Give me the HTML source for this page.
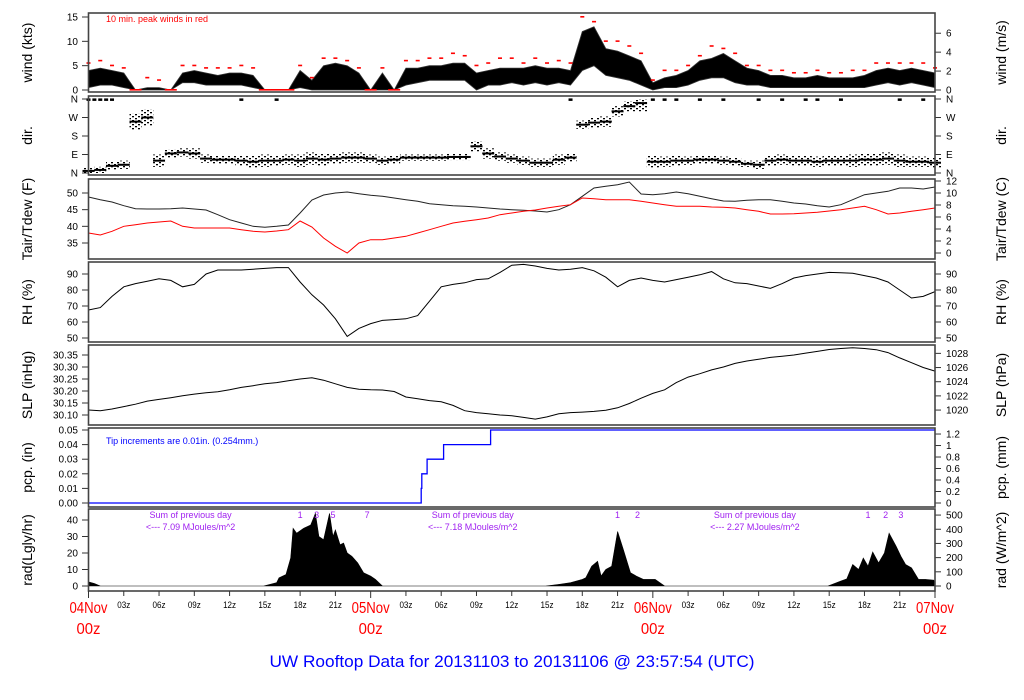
<!DOCTYPE html>
<html><head><meta charset="utf-8">
<style>
html,body{margin:0;padding:0;background:#fff;}
svg{display:block;font-family:"Liberation Sans",sans-serif;}
</style></head>
<body>
<svg id="chart" width="1024" height="700" viewBox="0 0 1024 700" xmlns="http://www.w3.org/2000/svg">
<defs>
<pattern id="dots" width="6" height="4" patternUnits="userSpaceOnUse">
<rect x="0" y="0" width="2" height="1.3" fill="#000"/>
<rect x="3" y="2" width="2" height="1.3" fill="#000"/>
</pattern>
</defs>
</svg>
<script>
// ---------- data (hourly, h = 0..72) ----------
const windHi = [4,4.5,4,3.5,0,0.5,0.5,0,3.5,4,3.5,3,3.5,3.5,3,0,0,0,4,2,5,5.5,5,3.5,0,3.5,0,4.5,4.5,5,5,5.5,5.5,3.5,4,4.5,4.5,4.5,5,4.5,4.5,4,12,13,8.5,8,7,6,1.5,2.5,3,4,6,6.5,7.5,6,4.5,4,3,3,2.5,2.5,3,2.5,2.5,2.5,3,4,4.5,4,4.5,4,3.5];
const windLo = [0.5,1,1,0.5,0,0,0,0,1.5,1.5,1,1,1,1,0.5,0,0,0,0.5,0,0,0,0,0,0,0,0,1,1.5,2,2,2,2,0,1,1,1.5,1,1.5,1,1.5,1,4,5,3,2.5,2,1,0,0.5,0.5,1,2,2.5,2.5,1.5,1,1,0.5,0.5,0.5,0.5,0.5,0.5,0.5,0.5,0.5,1,1.5,1,1.5,1,0.5];
const windGust = [5.5,6,5,4.5,0,2.5,2,0,5,5,4.5,4.5,4.5,5,4.5,0,0,0,5,2.5,6.5,6.5,6,4.5,0,4.5,0,6,6,6.5,6.5,7.5,7,5,5.5,6.5,6.5,5.5,6.5,5.5,6,5.5,15,14,10,10,9,7.5,2,4,4,5,7,9,8.5,7.5,5,5,4,4,3.5,3.5,4,3.5,3.5,4,4,5.5,5.5,5.5,5.5,5.5,4.5];
const dirVals = [10,15,35,40,250,270,60,95,100,95,70,65,65,60,55,60,60,65,60,70,65,70,75,75,70,60,65,75,75,75,75,78,78,130,95,80,70,60,50,50,65,75,235,245,250,300,325,340,55,55,60,60,65,65,60,55,45,40,60,65,60,60,55,60,60,60,65,65,70,60,55,55,50];
const dirSpread = [15,15,20,20,40,40,30,20,20,25,20,20,20,25,30,30,25,25,30,30,30,25,25,25,20,20,20,15,15,15,15,15,15,25,25,20,20,20,20,20,25,20,20,25,25,25,25,40,30,25,25,20,20,20,20,20,15,20,25,25,25,25,25,25,25,30,30,30,30,30,25,25,25];
const northHours = [0,0.5,1,1.5,2,13,16,41,48,49,50,52,54,57,59,61,62,64,69,71];
const tair = [48.8,48,47.3,46.2,45.3,45.2,45.2,45.3,45.5,45.2,44.9,43.5,42,41,40,39.7,40,40.4,44,47.9,49.4,50,50.3,49.8,49.3,49,48.5,48,47.5,46.8,46.5,46.2,46,45.8,45.5,45.2,45,44.8,44.6,44.3,45,46.5,49,51.5,52,52.5,53.3,49.7,49.5,49.8,50.3,49.8,49,48.3,47.6,47.5,47.8,48,48,47.5,47,46.7,46.2,45.8,46.5,48,49.5,50,50.5,51.5,51.5,51.2,51.8];
const tdew = [38,37.4,38.5,40,40.5,41,41.3,41.6,40,39.5,39.5,39.5,39.5,39,38.5,38.3,38.6,39,41.6,39.8,36.5,34,32,35,36,36,36.5,37,38,39,40,41,41.5,42,42.5,43.5,44,44.5,44.9,45.5,46,46.5,48.5,48.3,48,48,48,47.5,47,46.5,46,46,46,45.8,45.7,45.5,45,44.5,43.7,43.7,43.8,44,44.2,44.6,45,45.5,46,45,43.7,44,44.5,45,45.5];
const rh = [67.5,69,76,82,84,85.5,87,86,82,83.5,90,92.5,92.5,92.5,93,93.5,94,94,85,77,70.6,62,51,56,59,61,61.5,62,64,73,82,83.5,84.5,86.5,87,91,95.5,96,95,93.5,92.5,93,94,92,88,82,86,87.5,86,85,86.5,88,89.5,91.5,87,84.5,84,82.5,81,84,87.5,89,90,91,90.8,90.5,89,87.5,85,80,75,76,79];
const slp = [30.121,30.118,30.125,30.135,30.145,30.158,30.165,30.172,30.18,30.187,30.193,30.197,30.205,30.215,30.222,30.23,30.235,30.243,30.25,30.255,30.245,30.23,30.215,30.207,30.205,30.204,30.198,30.175,30.168,30.16,30.155,30.14,30.118,30.11,30.105,30.1,30.097,30.09,30.083,30.092,30.105,30.11,30.112,30.115,30.12,30.13,30.148,30.17,30.19,30.205,30.235,30.258,30.272,30.288,30.3,30.315,30.325,30.332,30.34,30.345,30.35,30.358,30.365,30.373,30.377,30.38,30.377,30.372,30.36,30.338,30.318,30.298,30.283];
const tipHours = [28.3,28.35,28.8,30.2,34.2];
const tipSize = 0.01;
const radHours = [0,0.5,1,14.9,16,16.2,16.8,17.2,17.4,17.7,18.3,18.9,19.3,19.6,20,20.5,20.8,21,21.4,21.7,22,22.4,22.9,23.4,24,24.4,25,38.9,40,41,42,42.3,42.8,43.3,43.6,44,44.5,45,45.5,46.1,46.6,47.2,48.2,49,62.9,64,64.5,65,65.5,65.9,66.3,66.7,67.2,67.7,68.1,68.7,69.1,69.5,70,70.6,71.2,71.9,72];
const radVals = [2.5,1.5,0,0,2,5,7,17,35,32,35,37,44,30,28,44,30,34,25,26,20,18,14,8,6,4,0,0,1,2,4,5,12,15,6,10,12,33,22,8,6,4,4,0,0,3,4.3,13,10,17,12,20.6,14,20,32,24,18,13,11,4,4,3.5,2];
const dayLabels = ["04Nov","05Nov","06Nov","07Nov"];
const hourLabels = ["03z","06z","09z","12z","15z","18z","21z"];
const radSums = ["7.09","7.18","2.27"];
const radMarks = [[["1",18],["3",19.4],["5",20.8],["7",23.7]],[["1",45],["2",46.7]],[["1",66.3],["2",67.8],["3",69.1]]];

// ---------- geometry ----------
const svg = document.getElementById('chart');
const NS = 'http://www.w3.org/2000/svg';
const X0 = 88.5, X1 = 935;
function xH(h){ return X0 + (X1 - X0) * h / 72; }
function hourOf(i, n){ return i * 72 / (n - 1); }
function el(tag, attrs, parent){
  const e = document.createElementNS(NS, tag);
  for (const k in attrs) e.setAttribute(k, attrs[k]);
  (parent || svg).appendChild(e);
  return e;
}
function txt(s, attrs, parent){ const t = el('text', attrs, parent); t.textContent = s; return t; }

const panels = [
  {name:'wind', top:13, bot:92, y:v=>90-v*4.867, lt:[0,5,10,15], ll:['0','5','10','15'],
   rt:[0,2,4,6].map(v=>v/0.5144), rl:['0','2','4','6'], ltitle:'wind (kts)', rtitle:'wind (m/s)'},
  {name:'dir', top:96, bot:175, y:v=>173-v*(74/360), lt:[0,90,180,270,360], ll:['N','E','S','W','N'],
   rt:[0,90,180,270,360], rl:['N','E','S','W','N'], ltitle:'dir.', rtitle:'dir.'},
  {name:'temp', top:179, bot:259, y:v=>193+(50-v)*3.333, lt:[35,40,45,50], ll:['35','40','45','50'],
   rt:[0,2,4,6,8,10,12].map(c=>c*1.8+32), rl:['0','2','4','6','8','10','12'], ltitle:'Tair/Tdew (F)', rtitle:'Tair/Tdew (C)'},
  {name:'rh', top:262, bot:342, y:v=>274+(90-v)*1.6, lt:[50,60,70,80,90], ll:['50','60','70','80','90'],
   rt:[50,60,70,80,90], rl:['50','60','70','80','90'], ltitle:'RH (%)', rtitle:'RH (%)'},
  {name:'slp', top:345, bot:425, y:v=>355+(30.35-v)*240, lt:[30.10,30.15,30.20,30.25,30.30,30.35], ll:['30.10','30.15','30.20','30.25','30.30','30.35'],
   rt:[1020,1022,1024,1026,1028].map(p=>p/33.8639), rl:['1020','1022','1024','1026','1028'], ltitle:'SLP (inHg)', rtitle:'SLP (hPa)'},
  {name:'pcp', top:428, bot:507, y:v=>503-v*1460, lt:[0,0.01,0.02,0.03,0.04,0.05], ll:['0.00','0.01','0.02','0.03','0.04','0.05'],
   rt:[0,0.2,0.4,0.6,0.8,1,1.2].map(m=>m/25.4), rl:['0','0.2','0.4','0.6','0.8','1','1.2'], ltitle:'pcp. (in)', rtitle:'pcp. (mm)'},
  {name:'rad', top:509, bot:591, y:v=>586-v*1.65, lt:[0,10,20,30,40], ll:['0','10','20','30','40'],
   rt:[0,100,200,300,400,500].map(w=>w/11.63), rl:['0','100','200','300','400','500'], ltitle:'rad(Lgly/hr)', rtitle:'rad (W/m^2)'}
];
const P = {}; panels.forEach(p=>P[p.name]=p);

panels.forEach(p=>{
  const g = el('g', {});
  
  
  p.g = g;
  p.lt.forEach((v,i)=>{
    const y = p.y(v);
    const tk = el('line', {x1:82, x2:X0, y1:y, y2:y, stroke:'#333', 'stroke-width':1}, g);
    
    
    const lb = txt(p.ll[i], {x:78, y:y+3.5, 'font-size':10, 'text-anchor':'end', fill:'#000'}, g);
    
    
  });
  p.rt.forEach((v,i)=>{
    const y = p.y(v);
    const tk = el('line', {x1:X1, x2:941, y1:y, y2:y, stroke:'#333', 'stroke-width':1}, g);
    
    
    const lb = txt(p.rl[i], {x:946, y:y+3.5, 'font-size':10, fill:'#000'}, g);
    
    
  });
  const cy = (p.top + p.bot) / 2;
  const lt = txt(p.ltitle, {x:0, y:0, 'font-size':14, 'text-anchor':'middle', transform:`translate(32,${cy}) rotate(-90)`}, g);
  
  
  const rt = txt(p.rtitle, {x:0, y:0, 'font-size':14, 'text-anchor':'middle', transform:`translate(1006,${cy}) rotate(-90)`}, g);
  
  
});

function line(arr, p, color, name){
  const pts = arr.map((v,i)=>xH(hourOf(i,arr.length)).toFixed(1)+','+p.y(v).toFixed(1)).join(' ');
  const pl = el('polyline', {points:pts, fill:'none', stroke:color, 'stroke-width':1}, p.g);
  
  
}

// wind band
{
  const p = P.wind, n = windHi.length;
  let pts = windHi.map((v,i)=>xH(hourOf(i,n)).toFixed(1)+','+p.y(v).toFixed(1));
  for (let i=n-1;i>=0;i--) pts.push(xH(hourOf(i,n)).toFixed(1)+','+p.y(windLo[i]).toFixed(1));
  const poly = el('polygon', {points:pts.join(' '), fill:'#000', stroke:'#333', 'stroke-width':0.8}, p.g);
  
  
  windGust.forEach((v,i)=>{
    const x = xH(hourOf(i,n));
    const w = v === 0 ? 12 : 4;
    const d = el('rect', {x:(v===0? x-6 : x-2), y:p.y(v)-1, width:w, height:1.6, fill:'#f00'}, p.g);
    
    
  });
  const note = txt('10 min. peak winds in red', {x:106, y:22, 'font-size':9, fill:'#f00'}, p.g);
  
  
}
// direction
{
  const p = P.dir, n = dirVals.length;
  dirVals.forEach((v,i)=>{
    const x = xH(hourOf(i,n));
    const y1 = p.y(Math.min(360, v + dirSpread[i])), y2 = p.y(Math.max(0, v - dirSpread[i]));
    const r = el('rect', {x:x-6, y:y1, width:12, height:y2-y1, fill:'url(#dots)'}, p.g);
    
    
    const c = el('rect', {x:x-6, y:p.y(v)-1, width:12, height:2, fill:'#000'}, p.g);
    
    
  });
  northHours.forEach(h=>{
    const r = el('rect', {x:xH(h)-2, y:p.y(358)-1, width:4, height:2.5, fill:'#000'}, p.g);
    
    
  });
}
line(tair, P.temp, '#222', 'tair-line');
line(tdew, P.temp, '#f00', 'tdew-line');
line(rh, P.rh, '#000', 'rh-line');
line(slp, P.slp, '#000', 'slp-line');
// precip
{
  const p = P.pcp;
  let total = 0, pts = [xH(0)+','+p.y(0)];
  tipHours.forEach(h=>{
    pts.push(xH(h).toFixed(1)+','+p.y(total).toFixed(1));
    total += tipSize;
    pts.push(xH(h).toFixed(1)+','+p.y(total).toFixed(1));
  });
  pts.push(xH(72)+','+p.y(total).toFixed(1));
  const pl = el('polyline', {points:pts.join(' '), fill:'none', stroke:'#00f', 'stroke-width':1.3}, p.g);
  
  
  const note = txt('Tip increments are 0.01in. (0.254mm.)', {x:106, y:444, 'font-size':9, fill:'#00f'}, p.g);
  
  
}
// radiation
{
  const p = P.rad;
  let pts = [xH(radHours[0]).toFixed(1)+','+p.y(0)];
  radHours.forEach((h,i)=>pts.push(xH(h).toFixed(1)+','+p.y(radVals[i]).toFixed(1)));
  pts.push(xH(radHours[radHours.length-1]).toFixed(1)+','+p.y(0));
  const poly = el('polygon', {points:pts.join(' '), fill:'#000', stroke:'#000', 'stroke-width':0.6}, p.g);
  
  
  radSums.forEach((s,d)=>{
    const cx = xH(12 + d*24) - 39;
    const a = txt('Sum of previous day', {x:cx, y:518, 'font-size':9, 'text-anchor':'middle', fill:'#a020f0'}, p.g);
    
    
    const b = txt('<--- ' + s + ' MJoules/m^2', {x:cx, y:530, 'font-size':9, 'text-anchor':'middle', fill:'#a020f0'}, p.g);
    
    
  });
  radMarks.forEach(day=>day.forEach(m=>{
    const t = txt(m[0], {x:xH(m[1]), y:518, 'font-size':9, 'text-anchor':'middle', fill:'#a020f0'}, p.g);
    
    
  }));
}
panels.forEach(p=>{
  const f = el('rect', {x:X0, y:p.top, width:X1-X0, height:p.bot-p.top, fill:'none', stroke:'#444', 'stroke-width':1.6}, p.g);
  
  
});
for (let h=0; h<=72; h+=3){
  const x = xH(h);
  const big = h % 24 === 0;
  const tk = el('line', {x1:x, x2:x, y1:591, y2:big?598:596, stroke:'#333', 'stroke-width':1});
  
  
  if (big){
    const d = h/24;
    const t1 = txt(dayLabels[d], {x:x, y:613, 'font-size':16, 'text-anchor':'middle', fill:'#f00', textLength:38, lengthAdjust:'spacingAndGlyphs'});
    
    
    const t2 = txt('00z', {x:x, y:634, 'font-size':16, 'text-anchor':'middle', fill:'#f00', textLength:24, lengthAdjust:'spacingAndGlyphs'});
    
    
  } else {
    const t = txt(hourLabels[(h%24)/3-1], {x:x, y:608, 'font-size':9, 'text-anchor':'middle', fill:'#000', textLength:13, lengthAdjust:'spacingAndGlyphs'});
    
    
  }
}
const title = txt('UW Rooftop Data for 20131103  to  20131106 @ 23:57:54  (UTC)', {x:512, y:667, 'font-size':17, 'text-anchor':'middle', fill:'#00f', textLength:485, lengthAdjust:'spacingAndGlyphs', 'xml:space':'preserve'});


</script>
</body></html>
